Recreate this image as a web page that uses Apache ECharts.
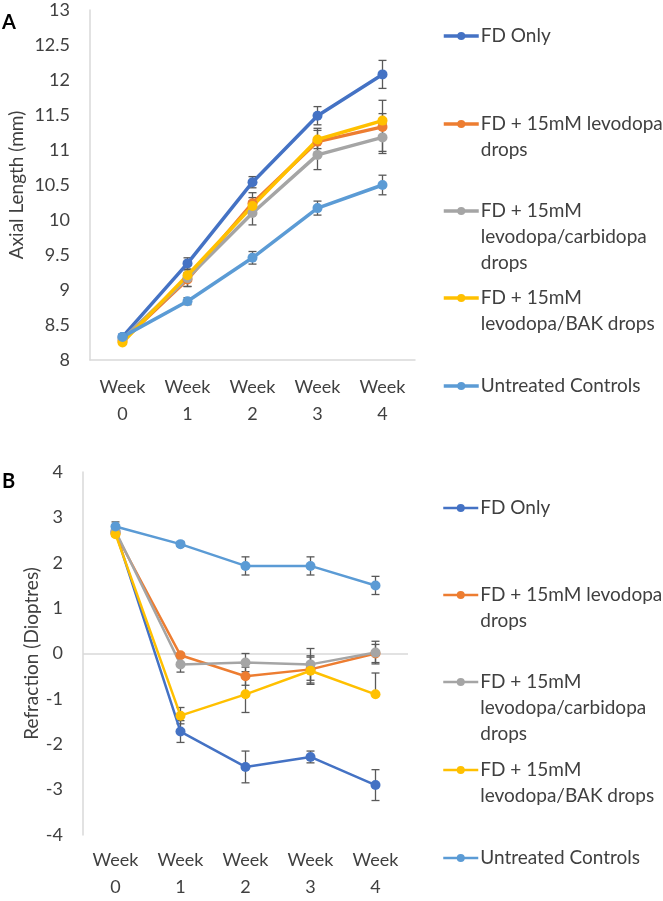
<!DOCTYPE html>
<html>
<head>
<meta charset="utf-8">
<script src="https://cdn.jsdelivr.net/npm/echarts@6/dist/echarts.min.js"></script>
<style>
html,body{margin:0;padding:0;background:#fff;}
#chart{width:663px;height:901px;}
</style>
</head>
<body>
<div id="chart"></div>
<script>
// ---- Data ----
const weeks = ['Week\n0', 'Week\n1', 'Week\n2', 'Week\n3', 'Week\n4'];
const seriesNames = ['FD Only', 'FD + 15mM levodopa drops', 'FD + 15mM levodopa/carbidopa drops', 'FD + 15mM levodopa/BAK drops', 'Untreated Controls'];
const legendLines = [['FD Only'], ['FD + 15mM levodopa', 'drops'], ['FD + 15mM', 'levodopa/carbidopa', 'drops'], ['FD + 15mM', 'levodopa/BAK drops'], ['Untreated Controls']];
const colors = ['#4472C4', '#ED7D31', '#A5A5A5', '#FFC000', '#5B9BD5'];

// Panel A: Axial Length (mm)
const fdOnlyA    = [8.33, 9.38, 10.54, 11.49, 12.08];
const levodopaA  = [8.27, 9.15, 10.24, 11.12, 11.33];
const carbidopaA = [8.30, 9.17, 10.10, 10.93, 11.18];
const bakA       = [8.25, 9.21, 10.20, 11.15, 11.42];
const controlsA  = [8.33, 8.84, 9.46, 10.17, 10.50];
const fdOnlyErrA    = [0.02, 0.08, 0.08, 0.13, 0.20];
const levodopaErrA  = [0.02, 0.10, 0.15, 0.19, 0.38];
const carbidopaErrA = [0.02, 0.12, 0.17, 0.21, 0.20];
const bakErrA       = [0.02, 0.08, 0.12, 0.13, 0.10];
const controlsErrA  = [0.02, 0.05, 0.09, 0.10, 0.14];

// Panel B: Refraction (Dioptres)
const fdOnlyB    = [2.68, -1.72, -2.50, -2.28, -2.90];
const levodopaB  = [2.65, -0.04, -0.50, -0.35, 0.00];
const carbidopaB = [2.70, -0.24, -0.20, -0.24, 0.02];
const bakB       = [2.63, -1.37, -0.90, -0.38, -0.90];
const controlsB  = [2.80, 2.41, 1.93, 1.93, 1.50];
const fdOnlyErrB    = [0.05, 0.24, 0.35, 0.13, 0.34];
const levodopaErrB  = [0.05, 0.05, 0.20, 0.30, 0.20];
const carbidopaErrB = [0.05, 0.17, 0.20, 0.35, 0.25];
const bakErrB       = [0.05, 0.18, 0.40, 0.30, [0, 0.47]];
const controlsErrB  = [0.10, 0.05, 0.20, 0.20, 0.20];

const yTicksA = {min: 8, max: 13, interval: 0.5};
const yTicksB = {min: -4, max: 4, interval: 1};

// ---- Build ----
const FONT = 'Lato';
const TXT = '#404040';
const AXIS = '#d9d9d9';
const valsA = [fdOnlyA, levodopaA, carbidopaA, bakA, controlsA];
const errsA = [fdOnlyErrA, levodopaErrA, carbidopaErrA, bakErrA, controlsErrA];
const valsB = [fdOnlyB, levodopaB, carbidopaB, bakB, controlsB];
const errsB = [fdOnlyErrB, levodopaErrB, carbidopaErrB, bakErrB, controlsErrB];

function errData(vals, errs) {
  return vals.map((v, i) => {
    const e = errs[i];
    const lo = Array.isArray(e) ? e[0] : e;
    const hi = Array.isArray(e) ? e[1] : e;
    return [i, v - lo, v + hi];
  });
}
function renderErr(params, api) {
  const x = api.value(0);
  const pLo = api.coord([x, api.value(1)]);
  const pHi = api.coord([x, api.value(2)]);
  const w = 4;
  const style = {stroke: '#595959', lineWidth: 1.3};
  return {type: 'group', children: [
    {type: 'line', shape: {x1: pLo[0], y1: pLo[1], x2: pHi[0], y2: pHi[1]}, style: style},
    {type: 'line', shape: {x1: pHi[0] - w, y1: pHi[1], x2: pHi[0] + w, y2: pHi[1]}, style: style},
    {type: 'line', shape: {x1: pLo[0] - w, y1: pLo[1], x2: pLo[0] + w, y2: pLo[1]}, style: style}
  ]};
}

const series = [];
[[valsA, errsA, 0, 3.5], [valsB, errsB, 1, 2.5]].forEach(([vals, errs, idx, lw]) => {
  vals.forEach((v, i) => {
    series.push({
      type: 'custom', name: seriesNames[i] + ' err' + idx, xAxisIndex: idx, yAxisIndex: idx,
      renderItem: renderErr, data: errData(v, errs[i]), z: 1, silent: true,
      encode: {x: 0, y: [1, 2]}
    });
  });
  vals.forEach((v, i) => {
    const s = {
      type: 'line', name: seriesNames[i], xAxisIndex: idx, yAxisIndex: idx, data: v,
      symbol: 'circle', symbolSize: 10,
      lineStyle: {color: colors[i], width: lw},
      itemStyle: {color: colors[i]},
      z: 3, animation: false
    };
    if (idx === 1 && i === 0) {
      s.markLine = {silent: true, symbol: 'none', label: {show: false},
        lineStyle: {color: AXIS, width: 1.5, type: 'solid'}, data: [{yAxis: 0}], z: 0};
    }
    series.push(s);
  });
});

const legendYA = [36, 124, 211, 298, 386];
const legendYB = [508, 595, 682, 770, 858];
const LH = 26;
const legends = [];
[[legendYA, 3.5], [legendYB, 2.5]].forEach(([ys, lw]) => {
  seriesNames.forEach((name, i) => {
    const lines = legendLines[i];
    const n = lines.length;
    const all = new Array(n - 1).fill('').concat(lines);
    const h = all.length * LH;
    legends.push({
      data: [name], left: 442, top: ys[i] - h / 2, padding: 0,
      itemWidth: 35, itemHeight: 10, itemGap: 0, selectedMode: false,
      lineStyle: {width: lw},
      formatter: () => all.join('\n'),
      textStyle: {fontFamily: FONT, fontSize: 19, color: TXT, lineHeight: LH, padding: [0, 0, 0, -3]}
    });
  });
});

function yAxis(idx, t, name, gap) {
  return {
    type: 'value', gridIndex: idx, min: t.min, max: t.max, interval: t.interval,
    name: name, nameLocation: 'middle', nameGap: gap, nameRotate: 90,
    nameTextStyle: {fontFamily: FONT, fontSize: 19, color: TXT},
    axisLine: {show: true, lineStyle: {color: AXIS, width: 1.5}},
    axisTick: {show: false}, splitLine: {show: false},
    axisLabel: {fontFamily: FONT, fontSize: 18, color: TXT, margin: 20}
  };
}
function xAxis(idx, showLine, margin) {
  return {
    type: 'category', gridIndex: idx, data: weeks, boundaryGap: true,
    axisLine: {show: showLine, onZero: false, lineStyle: {color: AXIS, width: 1.5}},
    axisTick: {show: false}, splitLine: {show: false},
    axisLabel: {fontFamily: FONT, fontSize: 18, color: TXT, lineHeight: 27, margin: margin, interval: 0}
  };
}

const option = {
  animation: false,
  backgroundColor: '#fff',
  title: [
    {text: 'A', left: 2, top: 13, padding: 0, textStyle: {fontFamily: FONT, fontSize: 20, fontWeight: 'bold', color: '#000'}},
    {text: 'B', left: 2, top: 472, padding: 0, textStyle: {fontFamily: FONT, fontSize: 20, fontWeight: 'bold', color: '#000'}}
  ],
  legend: legends,
  grid: [
    {left: 90, top: 10, width: 325, height: 350},
    {left: 83, top: 472, width: 325, height: 370}
  ],
  xAxis: [xAxis(0, true, 14), xAxis(1, false, 12)],
  yAxis: [yAxis(0, yTicksA, 'Axial Length (mm)', 64), yAxis(1, yTicksB, 'Refraction (Dioptres)', 42)],
  series: series
};

const chart = echarts.init(document.getElementById('chart'), null, {renderer: 'canvas'});
chart.setOption(option);
</script>
</body>
</html>
